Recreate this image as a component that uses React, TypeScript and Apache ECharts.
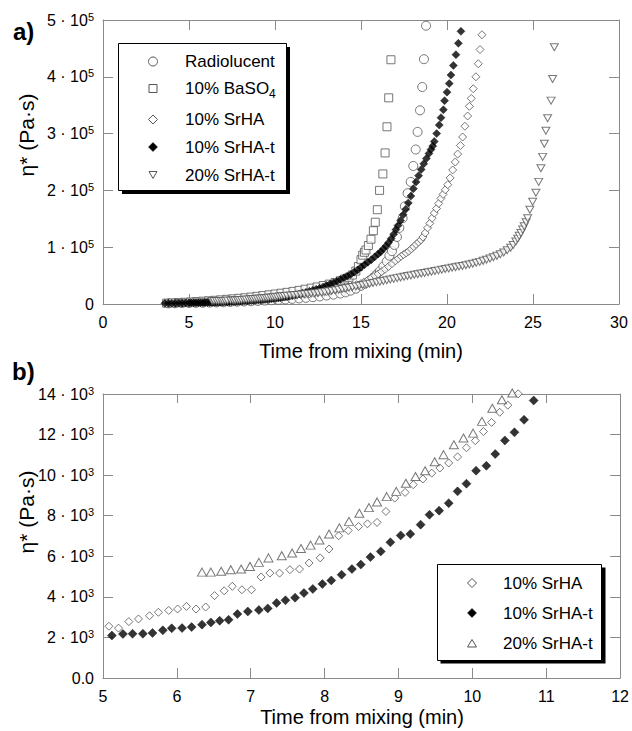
import React, { useEffect, useRef } from "react";
import * as echarts from "echarts";

type Pt = [number, number];

// ---------- Panel b: eta* in units of 10^3 Pa·s ----------
const bSrHA: Pt[] = [
  [5.08, 2.55], [5.21, 2.46], [5.35, 2.78], [5.48, 2.91], [5.63, 3.07], [5.75, 3.24], [5.89, 3.33],
  [6.01, 3.4], [6.13, 3.53], [6.26, 3.4], [6.39, 3.5], [6.51, 4.06], [6.64, 4.3], [6.75, 4.52],
  [6.88, 4.35], [7.01, 4.35], [7.14, 4.98], [7.26, 5.17], [7.39, 5.17], [7.53, 5.34], [7.66, 5.37],
  [7.79, 5.67], [7.94, 5.92], [8.06, 6.36], [8.19, 7.01], [8.32, 7.27], [8.46, 7.47], [8.58, 7.6],
  [8.71, 7.67], [8.83, 8.21], [8.95, 8.87], [9.09, 9.15], [9.2, 9.53], [9.33, 9.81], [9.45, 10.1],
  [9.56, 10.35], [9.68, 10.6], [9.8, 10.9], [9.92, 11.35], [10.04, 11.7], [10.15, 12.15],
  [10.26, 12.6], [10.37, 13.1], [10.48, 13.45], [10.62, 14.01],
];
const bSrHAt: Pt[] = [
  [5.12, 2.09], [5.27, 2.17], [5.4, 2.18], [5.54, 2.18], [5.67, 2.22], [5.81, 2.35], [5.93, 2.45],
  [6.07, 2.46], [6.2, 2.51], [6.34, 2.63], [6.46, 2.74], [6.58, 2.82], [6.7, 2.87], [6.82, 3.15],
  [6.96, 3.28], [7.11, 3.35], [7.23, 3.43], [7.35, 3.7], [7.47, 3.83], [7.6, 3.96], [7.72, 4.19],
  [7.84, 4.39], [7.97, 4.63], [8.09, 4.81], [8.23, 5.09], [8.37, 5.37], [8.49, 5.59], [8.62, 5.96],
  [8.76, 6.24], [8.89, 6.69], [9.03, 7.03], [9.16, 7.1], [9.3, 7.56], [9.42, 8.05], [9.55, 8.25],
  [9.68, 8.62], [9.8, 9.2], [9.92, 9.58], [10.05, 10.22], [10.19, 10.46], [10.31, 11.04],
  [10.44, 11.71], [10.57, 12.11], [10.7, 12.73], [10.83, 13.68],
];
const b20SrHAt: Pt[] = [
  [6.34, 5.22], [6.46, 5.22], [6.6, 5.26], [6.73, 5.34], [6.87, 5.37], [6.99, 5.5], [7.11, 5.7],
  [7.24, 5.92], [7.42, 6.03], [7.56, 6.16], [7.68, 6.38], [7.81, 6.55], [7.93, 6.8], [8.06, 7.1],
  [8.2, 7.4], [8.33, 7.72], [8.47, 8.12], [8.6, 8.4], [8.71, 8.68], [8.84, 8.94], [8.97, 9.2],
  [9.1, 9.6], [9.23, 9.93], [9.36, 10.22], [9.49, 10.66], [9.61, 11.01], [9.75, 11.5], [9.88, 11.83],
  [10.01, 12.07], [10.13, 12.65], [10.27, 13.3], [10.4, 13.72], [10.54, 14.05],
];

// ---------- Panel a: eta* in units of 10^5 Pa·s ----------
const aRadiolucent: Pt[] = [
  [3.8, 0.011], [4.2, 0.013], [4.6, 0.015], [5.0, 0.017], [5.4, 0.019], [5.8, 0.022], [6.2, 0.025],
  [6.6, 0.028], [7.0, 0.031], [7.4, 0.035], [7.8, 0.04], [8.2, 0.044], [8.6, 0.049], [9.0, 0.055],
  [9.4, 0.06], [9.8, 0.067], [10.2, 0.073], [10.6, 0.08], [11.0, 0.09], [11.4, 0.098], [11.8, 0.108],
  [12.2, 0.12], [12.6, 0.133], [13.0, 0.15], [13.4, 0.165], [13.8, 0.185], [14.1, 0.205], [14.4, 0.235],
  [14.7, 0.27], [15.0, 0.32], [15.25, 0.36], [15.5, 0.41], [15.7, 0.46], [15.9, 0.52], [16.1, 0.58],
  [16.3, 0.66], [16.5, 0.75], [16.65, 0.85], [16.8, 0.93], [16.94, 1.04], [17.09, 1.18], [17.23, 1.34],
  [17.42, 1.51], [17.55, 1.72], [17.71, 1.95], [17.89, 2.15], [18.04, 2.43], [18.18, 2.72],
  [18.29, 3.03], [18.43, 3.41], [18.56, 3.82], [18.66, 4.31], [18.78, 4.9],
];
const aBaSO4: Pt[] = [
  [3.7, 0.015], [4.05, 0.02], [4.4, 0.025], [4.75, 0.03], [5.1, 0.036], [5.45, 0.043], [5.8, 0.05],
  [6.15, 0.057], [6.5, 0.065], [6.85, 0.073], [7.2, 0.082], [7.55, 0.091], [7.9, 0.1], [8.25, 0.11],
  [8.6, 0.122], [8.95, 0.135], [9.3, 0.148], [9.65, 0.162], [10.0, 0.176], [10.35, 0.19], [10.7, 0.205],
  [11.05, 0.222], [11.4, 0.24], [11.75, 0.26], [12.1, 0.28], [12.45, 0.3], [12.8, 0.325], [13.15, 0.35],
  [13.5, 0.38], [13.8, 0.41], [14.05, 0.44], [14.3, 0.47], [14.5, 0.51], [14.7, 0.58], [14.85, 0.66],
  [15.0, 0.78], [15.1, 0.86], [15.2, 0.91], [15.29, 0.95], [15.43, 1.03], [15.58, 1.14], [15.72, 1.29],
  [15.83, 1.44], [15.95, 1.66], [16.08, 2.0], [16.27, 2.29], [16.4, 2.66], [16.51, 3.12], [16.61, 3.63],
  [16.74, 4.3],
];
const aSrHAStart: Pt[] = [[4.3, 0.018], [4.5, 0.019], [4.7, 0.021], [4.9, 0.023]];
const aSrHAEnd: Pt[] = [
  [10.8, 0.145], [11.0, 0.15], [11.25, 0.157], [11.5, 0.165], [11.75, 0.172], [12.0, 0.18], [12.25, 0.19],
  [12.5, 0.2], [12.75, 0.21], [13.0, 0.22], [13.25, 0.235], [13.5, 0.25], [13.75, 0.265], [14.0, 0.28],
  [14.25, 0.3], [14.5, 0.32], [14.75, 0.34], [15.0, 0.36], [15.2, 0.39], [15.4, 0.42], [15.6, 0.46],
  [15.8, 0.5], [16.0, 0.53], [16.2, 0.57], [16.4, 0.61], [16.6, 0.66], [16.8, 0.71], [17.0, 0.76],
  [17.17, 0.8], [17.33, 0.84], [17.48, 0.87], [17.63, 0.9], [17.78, 0.93], [17.93, 0.97], [18.07, 1.01],
  [18.2, 1.05], [18.35, 1.09], [18.49, 1.13], [18.6, 1.18], [18.73, 1.25], [18.87, 1.34], [19.0, 1.42],
  [19.13, 1.51], [19.26, 1.6], [19.39, 1.68], [19.52, 1.77], [19.65, 1.86], [19.77, 1.93], [19.9, 2.01],
  [20.04, 2.1], [20.18, 2.22], [20.33, 2.36], [20.48, 2.5], [20.62, 2.64], [20.78, 2.79], [20.91, 2.94],
  [21.04, 3.13], [21.2, 3.31], [21.3, 3.48], [21.41, 3.62], [21.53, 3.79], [21.68, 4.0], [21.82, 4.23],
  [21.92, 4.48], [22.03, 4.74],
];
const aSrHAtStart: Pt[] = [
  [3.6, 0.012], [3.8, 0.013], [4.0, 0.014], [4.2, 0.015], [4.4, 0.016], [4.6, 0.017], [4.8, 0.019], [5.0, 0.02],
];
const aSrHAtEnd: Pt[] = [
  [11.0, 0.15], [11.2, 0.163], [11.4, 0.177], [11.6, 0.192], [11.8, 0.207], [12.0, 0.223], [12.2, 0.24],
  [12.4, 0.258], [12.6, 0.277], [12.8, 0.3], [13.0, 0.325], [13.2, 0.35], [13.4, 0.375], [13.6, 0.4],
  [13.8, 0.43], [14.0, 0.46], [14.2, 0.49], [14.4, 0.52], [14.6, 0.56], [14.8, 0.6], [15.0, 0.645],
  [15.2, 0.69], [15.4, 0.735], [15.6, 0.78], [15.8, 0.83], [16.0, 0.88], [16.15, 0.92], [16.3, 0.97],
  [16.45, 1.02], [16.6, 1.08], [16.75, 1.15], [16.9, 1.23], [17.03, 1.31], [17.15, 1.38], [17.3, 1.47],
  [17.45, 1.57], [17.6, 1.67], [17.75, 1.78], [17.9, 1.9], [18.05, 2.03], [18.2, 2.15], [18.35, 2.26],
  [18.5, 2.37], [18.65, 2.47], [18.8, 2.56], [18.95, 2.65], [19.07, 2.72], [19.17, 2.78], [19.26, 2.86],
  [19.4, 3.0], [19.55, 3.15], [19.65, 3.28], [19.79, 3.42], [19.86, 3.58], [20.0, 3.73], [20.13, 3.88],
  [20.23, 4.03], [20.37, 4.2], [20.52, 4.39], [20.66, 4.59], [20.81, 4.8],
];
const a20SrHAtEnd: Pt[] = [
  [10.7, 0.145], [10.9, 0.15], [11.1, 0.155], [11.3, 0.16], [11.5, 0.166], [11.7, 0.172], [11.9, 0.178],
  [12.1, 0.184], [12.3, 0.19], [12.5, 0.197], [12.7, 0.205], [12.9, 0.214], [13.1, 0.223], [13.3, 0.233],
  [13.5, 0.243], [13.7, 0.253], [13.9, 0.264], [14.1, 0.275], [14.3, 0.286], [14.5, 0.298], [14.7, 0.31],
  [14.9, 0.322], [15.1, 0.334], [15.3, 0.346], [15.5, 0.358], [15.7, 0.37], [15.9, 0.382], [16.1, 0.394],
  [16.3, 0.406], [16.5, 0.418], [16.7, 0.43], [16.9, 0.443], [17.1, 0.456], [17.3, 0.468], [17.5, 0.48],
  [17.7, 0.492], [17.9, 0.503], [18.1, 0.514], [18.3, 0.525], [18.5, 0.536], [18.7, 0.547], [18.9, 0.558],
  [19.1, 0.569], [19.3, 0.58], [19.5, 0.592], [19.7, 0.604], [19.9, 0.615], [20.1, 0.626], [20.3, 0.637],
  [20.5, 0.648], [20.7, 0.659], [20.9, 0.67], [21.1, 0.682], [21.3, 0.695], [21.5, 0.71], [21.7, 0.725],
  [21.9, 0.742], [22.1, 0.76], [22.3, 0.78], [22.5, 0.8], [22.7, 0.823], [22.9, 0.848], [23.1, 0.876],
  [23.3, 0.907], [23.5, 0.945], [23.7, 0.99], [23.85, 1.04], [24.0, 1.1], [24.11, 1.15], [24.2, 1.2],
  [24.3, 1.25], [24.4, 1.31], [24.49, 1.37], [24.6, 1.44], [24.69, 1.51], [24.82, 1.66], [24.98, 1.8],
  [25.17, 1.96], [25.33, 2.15], [25.46, 2.39], [25.56, 2.59], [25.66, 2.82], [25.75, 3.05], [25.85, 3.27],
  [26.05, 3.58], [26.14, 3.96], [26.24, 4.52],
];

const legendA = ["Radiolucent", "10% BaSO{sub|4}", "10% SrHA", "10% SrHA-t", "20% SrHA-t"];
const legendB = ["10% SrHA", "10% SrHA-t", "20% SrHA-t"];
const xTitle = "Time from mixing (min)";
const yTitle = "η* (Pa·s)";
const expA = 5;
const expB = 3;

const FONT = "'Liberation Sans', Arial, Helvetica, sans-serif";
const AX = "#8a8a8a";
const MK = "#555555";

// panel b values (10^3) expressed in panel a units (10^5)
const toA = (pts: Pt[]): Pt[] => pts.map(([x, y]) => [x, y / 100] as Pt);

function xAxis(grid: number, min: number, max: number, interval: number, pos: string, labels: boolean, tick: number) {
  return {
    type: "value", gridIndex: grid, min, max, interval, position: pos,
    axisLine: { show: true, onZero: false, lineStyle: { color: AX, width: 1 } },
    axisTick: { show: true, inside: true, length: tick, lineStyle: { color: AX, width: 1 } },
    axisLabel: { show: labels, color: "#000", fontSize: 16, fontFamily: FONT, margin: 10 },
    splitLine: { show: false },
  };
}
function yAxis(grid: number, max: number, interval: number, pos: string, labels: boolean, exp: number, zero: string) {
  return {
    type: "value", gridIndex: grid, min: 0, max, interval, position: pos,
    axisLine: { show: true, onZero: false, lineStyle: { color: AX, width: 1 } },
    axisTick: { show: true, inside: true, length: 10, lineStyle: { color: AX, width: 1 } },
    axisLabel: {
      show: labels, color: "#000", fontSize: 16, fontFamily: FONT, margin: 9, lineHeight: 18,
      formatter: (v: number) => (v === 0 ? zero : `${v} · 10{sup|${exp}}`),
      rich: { sup: { fontSize: 11, lineHeight: 11, verticalAlign: "top", color: "#000", fontFamily: FONT } },
    },
    splitLine: { show: false },
  };
}

const openStyle = { color: "#fff", borderColor: MK, borderWidth: 1 };
const fillStyle = { color: "#000", borderColor: "#000", borderWidth: 0.5 };

function txt(x: number, y: number, text: string, size: number, extra: any = {}) {
  return {
    type: "text", x, y, silent: true, z: 20, ...extra,
    style: {
      text, fontSize: size, fontFamily: FONT, fill: "#000",
      align: "left", verticalAlign: "middle", textAlign: "left", textVerticalAlign: "middle",
      ...(extra.style || {}),
    },
  };
}

function buildOption() {
  const series: any[] = [
    { name: "Radiolucent", xAxisIndex: 0, yAxisIndex: 0, symbol: "circle", symbolSize: 9, itemStyle: openStyle, data: aRadiolucent },
    { name: "10% BaSO4", xAxisIndex: 0, yAxisIndex: 0, symbol: "rect", symbolSize: 8, itemStyle: openStyle, data: aBaSO4 },
    { name: "10% SrHA", xAxisIndex: 0, yAxisIndex: 0, symbol: "diamond", symbolSize: 8, itemStyle: openStyle, data: [...aSrHAStart, ...toA(bSrHA), ...aSrHAEnd] },
    { name: "10% SrHA-t", xAxisIndex: 0, yAxisIndex: 0, symbol: "diamond", symbolSize: 8, itemStyle: fillStyle, data: [...aSrHAtStart, ...toA(bSrHAt), ...aSrHAtEnd] },
    { name: "20% SrHA-t", xAxisIndex: 0, yAxisIndex: 0, symbol: "triangle", symbolRotate: 180, symbolSize: [8, 7], itemStyle: openStyle, data: [...toA(b20SrHAt), ...a20SrHAtEnd] },
    { name: "10% SrHA", xAxisIndex: 2, yAxisIndex: 2, symbol: "diamond", symbolSize: 8, itemStyle: openStyle, data: bSrHA },
    { name: "10% SrHA-t", xAxisIndex: 2, yAxisIndex: 2, symbol: "diamond", symbolSize: 9, itemStyle: fillStyle, data: bSrHAt },
    { name: "20% SrHA-t", xAxisIndex: 2, yAxisIndex: 2, symbol: "triangle", symbolSize: [9, 8], itemStyle: openStyle, data: b20SrHAt },
  ].map((s) => ({ type: "scatter", clip: false, silent: true, emphasis: { disabled: true }, ...s }));

  const sym = { fill: "#fff", stroke: MK, lineWidth: 1 };
  const symF = { fill: "#000", stroke: "#000", lineWidth: 0.5 };
  const diamond = (cx: number, cy: number, r: number) => [[cx, cy - r], [cx + r, cy], [cx, cy + r], [cx - r, cy]];

  const rowsA = [61.5, 88.5, 119.5, 147, 175];
  const rowsB = [583, 613, 643.5];
  const subRich = { sub: { fontSize: 12, lineHeight: 12, verticalAlign: "bottom", fontFamily: FONT, fill: "#000" } };

  const graphic: any[] = [
    txt(13, 31, "a)", 24, { style: { fontWeight: "bold" } }),
    txt(12, 371, "b)", 24, { style: { fontWeight: "bold" } }),
    txt(361, 351, xTitle, 20, { style: { align: "center", textAlign: "center" } }),
    txt(362, 717, xTitle, 20, { style: { align: "center", textAlign: "center" } }),
    txt(26, 135, yTitle, 21, { rotation: Math.PI / 2, style: { align: "center", textAlign: "center" } }),
    txt(26, 512, yTitle, 21, { rotation: Math.PI / 2, style: { align: "center", textAlign: "center" } }),
    // legend a
    { type: "rect", z: 10, silent: true, shape: { x: 122, y: 47, width: 168, height: 147 }, style: { fill: "#000" } },
    { type: "rect", z: 11, silent: true, shape: { x: 118.5, y: 43.5, width: 168, height: 147 }, style: { fill: "#fff", stroke: "#000", lineWidth: 1 } },
    { type: "circle", z: 12, silent: true, shape: { cx: 153, cy: rowsA[0], r: 4.5 }, style: sym },
    { type: "rect", z: 12, silent: true, shape: { x: 149, y: rowsA[1] - 4, width: 8, height: 8 }, style: sym },
    { type: "polygon", z: 12, silent: true, shape: { points: diamond(153, rowsA[2], 4.5) }, style: sym },
    { type: "polygon", z: 12, silent: true, shape: { points: diamond(153, rowsA[3], 4.5) }, style: symF },
    { type: "polygon", z: 12, silent: true, shape: { points: [[149, rowsA[4] - 3.5], [157, rowsA[4] - 3.5], [153, rowsA[4] + 3.5]] }, style: sym },
    ...legendA.map((t, i) =>
      txt(185, rowsA[i], t, 17, { style: { rich: subRich, lineHeight: 22 } })
    ),
    // legend b
    { type: "rect", z: 10, silent: true, shape: { x: 440.5, y: 567.5, width: 165, height: 96 }, style: { fill: "#000" } },
    { type: "rect", z: 11, silent: true, shape: { x: 437.5, y: 564.5, width: 164, height: 96 }, style: { fill: "#fff", stroke: "#000", lineWidth: 1 } },
    { type: "polygon", z: 12, silent: true, shape: { points: diamond(472, rowsB[0], 4.5) }, style: sym },
    { type: "polygon", z: 12, silent: true, shape: { points: diamond(472, rowsB[1], 4.5) }, style: symF },
    { type: "polygon", z: 12, silent: true, shape: { points: [[472, rowsB[2] - 4], [476.5, rowsB[2] + 3.5], [467.5, rowsB[2] + 3.5]] }, style: sym },
    ...legendB.map((t, i) => txt(503, rowsB[i], t, 17)),
  ];

  return {
    animation: false,
    backgroundColor: "#fff",
    textStyle: { fontFamily: FONT },
    grid: [
      { left: 103, top: 20, width: 516, height: 284 },
      { left: 103, top: 394, width: 518, height: 284 },
    ],
    xAxis: [
      xAxis(0, 0, 30, 5, "bottom", true, 10),
      xAxis(0, 0, 30, 5, "top", false, 10),
      xAxis(1, 5, 12, 1, "bottom", true, 10),
      xAxis(1, 5, 12, 1, "top", false, 9),
    ],
    yAxis: [
      yAxis(0, 5, 1, "left", true, expA, "0"),
      yAxis(0, 5, 1, "right", false, expA, "0"),
      yAxis(1, 14, 2, "left", true, expB, "0.0"),
      yAxis(1, 14, 2, "right", false, expB, "0.0"),
    ],
    series,
    graphic,
  };
}

export default function App() {
  const ref = useRef<HTMLDivElement>(null);
  useEffect(() => {
    document.body.style.margin = "0";
    const chart = echarts.init(ref.current!, null, { renderer: "svg" });
    chart.setOption(buildOption() as any);
    return () => chart.dispose();
  }, []);
  return (
    <div
      ref={ref}
      style={{ position: "fixed", left: 0, top: 0, width: 632, height: 731, background: "#fff" }}
    />
  );
}
